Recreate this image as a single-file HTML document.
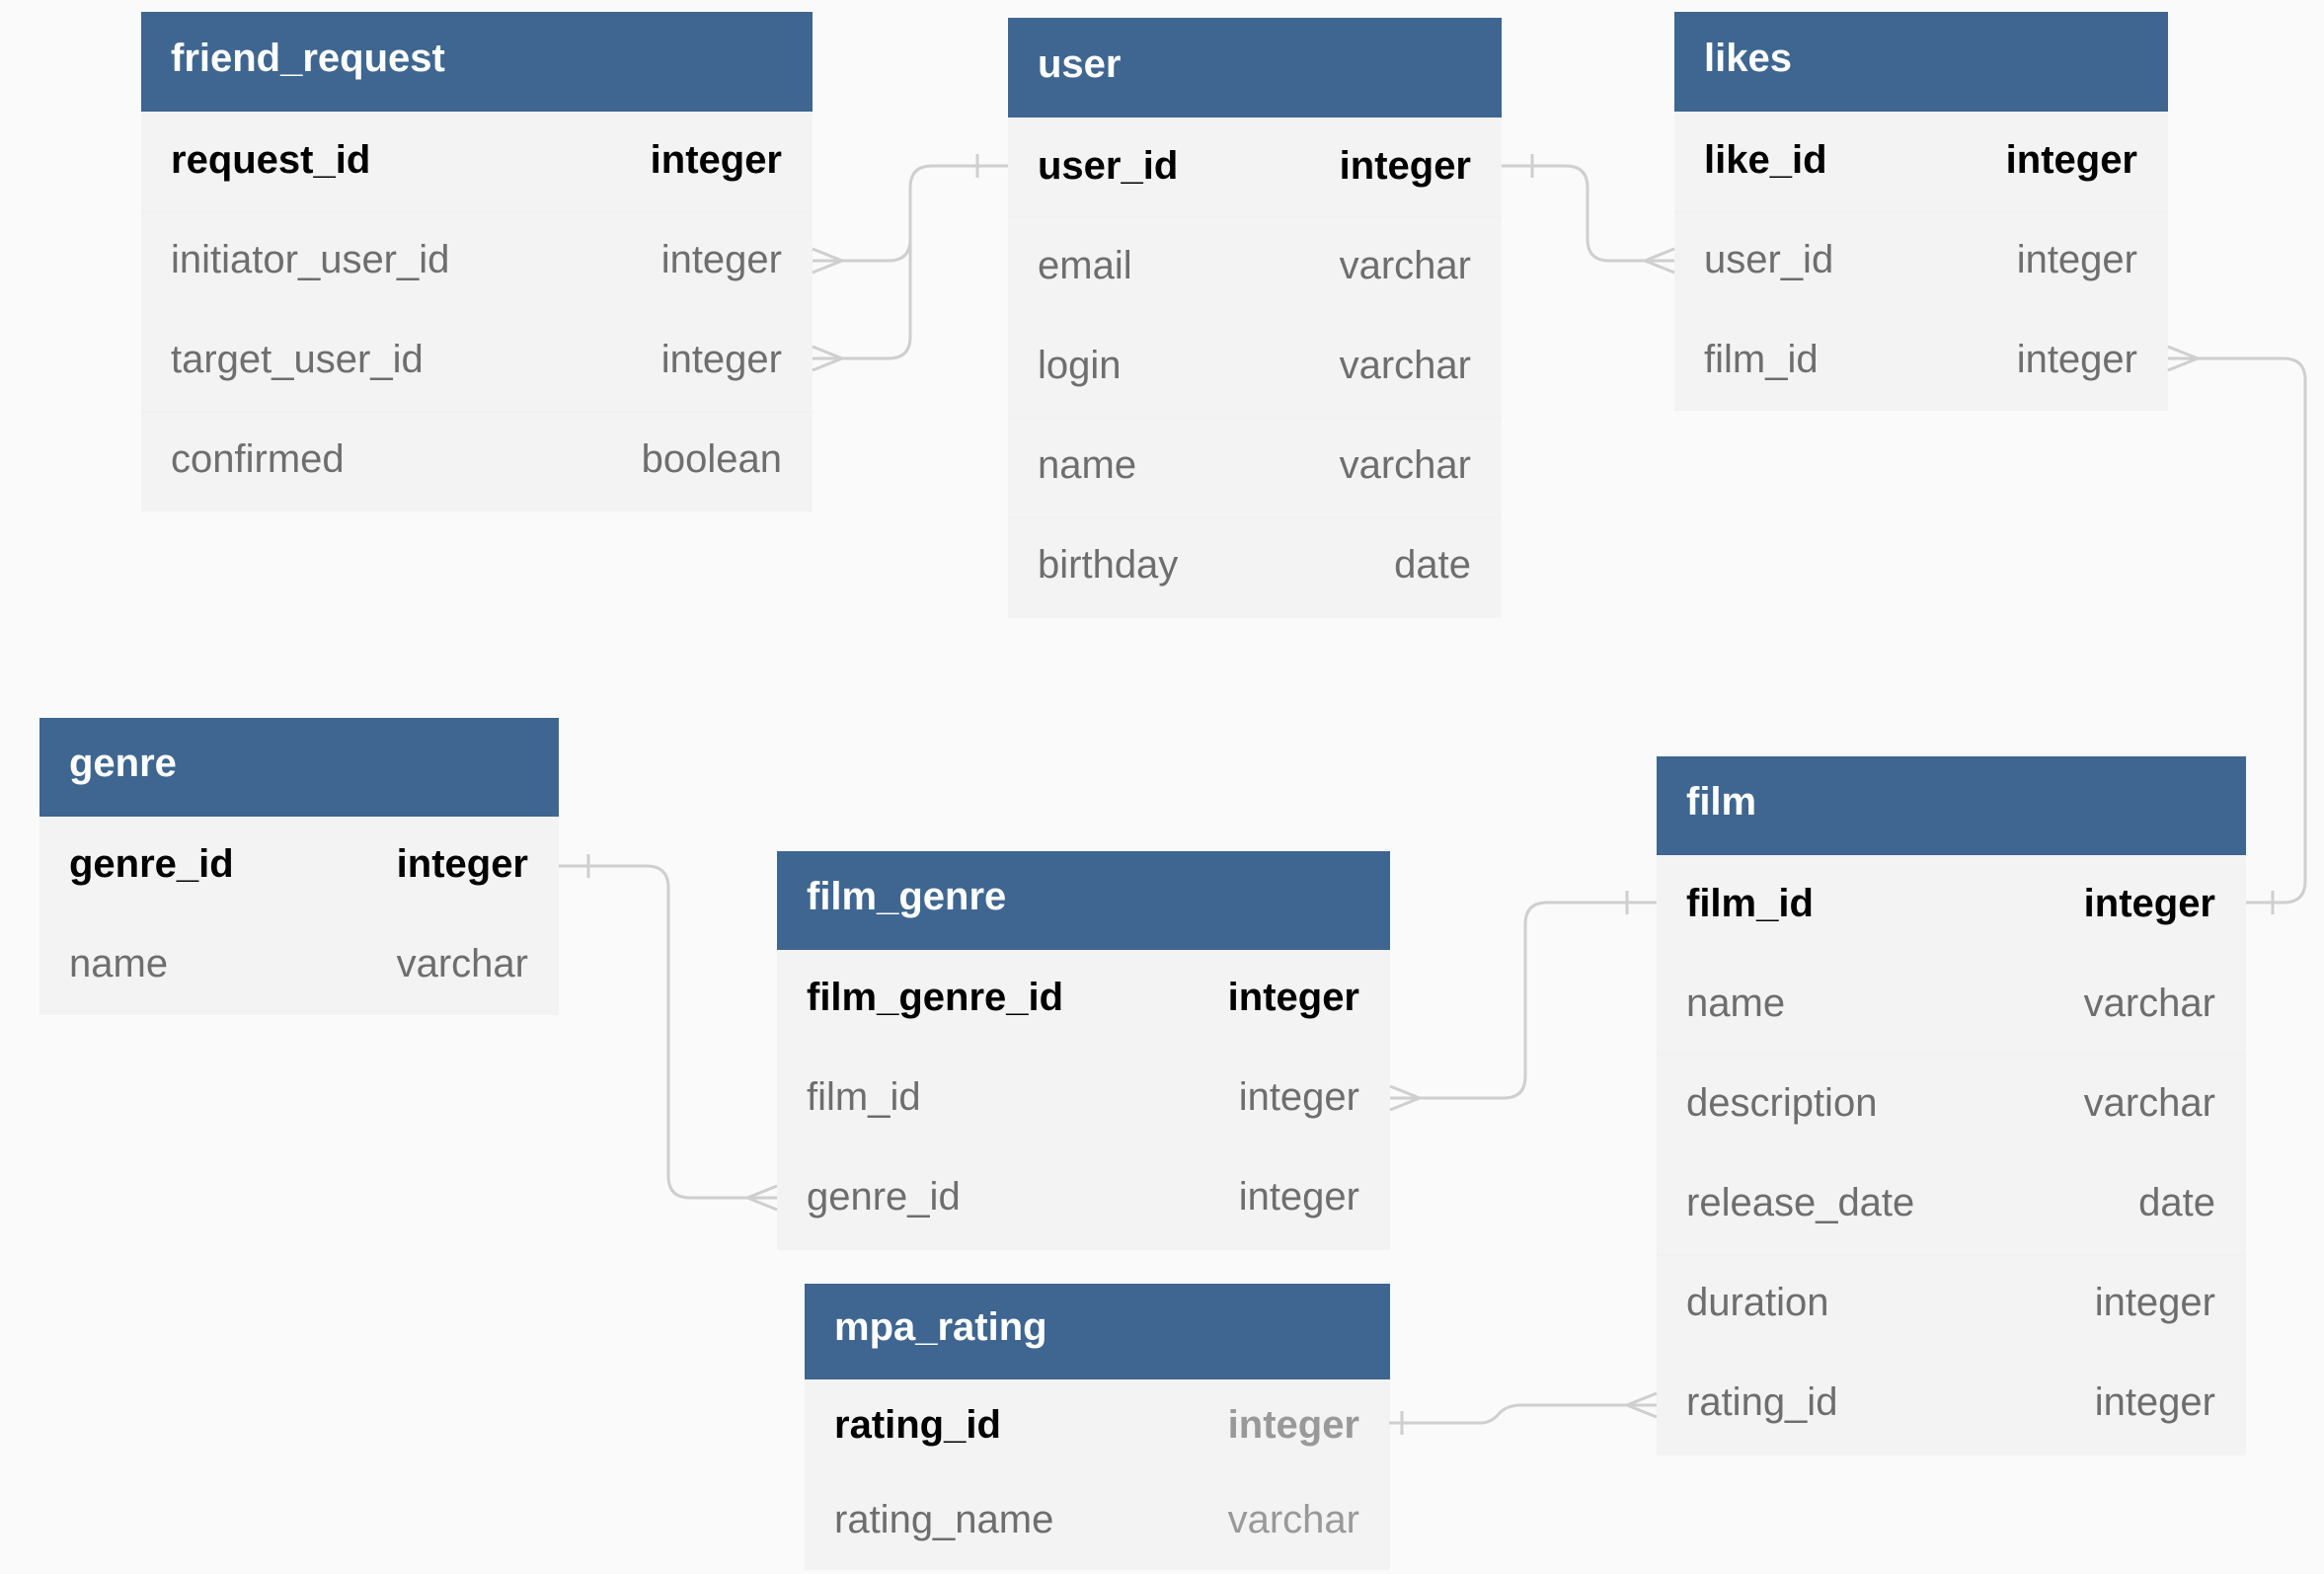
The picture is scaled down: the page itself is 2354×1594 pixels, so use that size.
<!DOCTYPE html>
<html><head><meta charset="utf-8"><style>
html,body{margin:0;padding:0;background:#fafafa;}
svg{display:block;font-family:"Liberation Sans",Arial,sans-serif;}
.h{fill:#fff;font-weight:bold;font-size:40px;}
.k{fill:#000;font-weight:bold;font-size:40px;}
.f{fill:#6e6e6e;font-size:40px;}
.c{fill:none;stroke:#cfcfcf;stroke-width:3;}
</style></head><body>
<svg width="2354" height="1594" viewBox="0 0 2354 1594">
<rect width="2354" height="1594" fill="#fafafa"/>
<!-- friend_request -->
<rect x="143" y="12" width="680" height="101" fill="#3e6690"/>
<rect x="143" y="113" width="680" height="405" fill="#f3f3f3"/>
<line x1="143" y1="214" x2="823" y2="214" stroke="#f1f1f1" stroke-width="2"/><line x1="143" y1="417" x2="823" y2="417" stroke="#f1f1f1" stroke-width="2"/>
<text x="173" y="72" class="h">friend_request</text>
<text x="173" y="175" class="k">request_id</text><text x="792" y="175" class="k" text-anchor="end">integer</text>
<text x="173" y="276" class="f">initiator_user_id</text><text x="792" y="276" class="f" text-anchor="end">integer</text>
<text x="173" y="377" class="f">target_user_id</text><text x="792" y="377" class="f" text-anchor="end">integer</text>
<text x="173" y="478" class="f">confirmed</text><text x="792" y="478" class="f" text-anchor="end">boolean</text>
<!-- user -->
<rect x="1021" y="18" width="500" height="101" fill="#3e6690"/>
<rect x="1021" y="119" width="500" height="507" fill="#f3f3f3"/>
<line x1="1021" y1="220" x2="1521" y2="220" stroke="#f1f1f1" stroke-width="2"/><line x1="1021" y1="423" x2="1521" y2="423" stroke="#f1f1f1" stroke-width="2"/><line x1="1021" y1="524" x2="1521" y2="524" stroke="#f1f1f1" stroke-width="2"/>
<text x="1051" y="78" class="h">user</text>
<text x="1051" y="181" class="k">user_id</text><text x="1490" y="181" class="k" text-anchor="end">integer</text>
<text x="1051" y="282" class="f">email</text><text x="1490" y="282" class="f" text-anchor="end">varchar</text>
<text x="1051" y="383" class="f">login</text><text x="1490" y="383" class="f" text-anchor="end">varchar</text>
<text x="1051" y="484" class="f">name</text><text x="1490" y="484" class="f" text-anchor="end">varchar</text>
<text x="1051" y="585" class="f">birthday</text><text x="1490" y="585" class="f" text-anchor="end">date</text>
<!-- likes -->
<rect x="1696" y="12" width="500" height="101" fill="#3e6690"/>
<rect x="1696" y="113" width="500" height="303" fill="#f3f3f3"/>
<line x1="1696" y1="214" x2="2196" y2="214" stroke="#f1f1f1" stroke-width="2"/>
<text x="1726" y="72" class="h">likes</text>
<text x="1726" y="175" class="k">like_id</text><text x="2165" y="175" class="k" text-anchor="end">integer</text>
<text x="1726" y="276" class="f">user_id</text><text x="2165" y="276" class="f" text-anchor="end">integer</text>
<text x="1726" y="377" class="f">film_id</text><text x="2165" y="377" class="f" text-anchor="end">integer</text>
<!-- genre -->
<rect x="40" y="727" width="526" height="100" fill="#3e6690"/>
<rect x="40" y="827" width="526" height="201" fill="#f3f3f3"/>
<text x="70" y="786" class="h">genre</text>
<text x="70" y="888" class="k">genre_id</text><text x="535" y="888" class="k" text-anchor="end">integer</text>
<text x="70" y="989" class="f">name</text><text x="535" y="989" class="f" text-anchor="end">varchar</text>
<!-- film_genre -->
<rect x="787" y="862" width="621" height="100" fill="#3e6690"/>
<rect x="787" y="962" width="621" height="304" fill="#f3f3f3"/>
<text x="817" y="921" class="h">film_genre</text>
<text x="817" y="1023" class="k">film_genre_id</text><text x="1377" y="1023" class="k" text-anchor="end">integer</text>
<text x="817" y="1124" class="f">film_id</text><text x="1377" y="1124" class="f" text-anchor="end">integer</text>
<text x="817" y="1225" class="f">genre_id</text><text x="1377" y="1225" class="f" text-anchor="end">integer</text>
<!-- film -->
<rect x="1678" y="766" width="597" height="100" fill="#3e6690"/>
<rect x="1678" y="866" width="597" height="608" fill="#f3f3f3"/>
<line x1="1678" y1="1068" x2="2275" y2="1068" stroke="#f1f1f1" stroke-width="2"/><line x1="1678" y1="1271" x2="2275" y2="1271" stroke="#f1f1f1" stroke-width="2"/>
<text x="1708" y="825" class="h">film</text>
<text x="1708" y="928" class="k">film_id</text><text x="2244" y="928" class="k" text-anchor="end">integer</text>
<text x="1708" y="1029" class="f">name</text><text x="2244" y="1029" class="f" text-anchor="end">varchar</text>
<text x="1708" y="1130" class="f">description</text><text x="2244" y="1130" class="f" text-anchor="end">varchar</text>
<text x="1708" y="1231" class="f">release_date</text><text x="2244" y="1231" class="f" text-anchor="end">date</text>
<text x="1708" y="1332" class="f">duration</text><text x="2244" y="1332" class="f" text-anchor="end">integer</text>
<text x="1708" y="1433" class="f">rating_id</text><text x="2244" y="1433" class="f" text-anchor="end">integer</text>
<!-- mpa_rating -->
<rect x="815" y="1300" width="593" height="97" fill="#3e6690"/>
<rect x="815" y="1397" width="593" height="193" fill="#f3f3f3"/>
<text x="845" y="1357" class="h">mpa_rating</text>
<text x="845" y="1456" class="k">rating_id</text><text x="1377" y="1456" class="k" text-anchor="end" style="fill:#999">integer</text>
<text x="845" y="1552" class="f">rating_name</text><text x="1377" y="1552" class="f" text-anchor="end" style="fill:#999">varchar</text>
<!-- connectors -->
<path class="c" d="M1021 168 H944 Q922 168 922 190 V242 Q922 264 900 264 H823"/>
<path class="c" d="M922 240 V341 Q922 363 900 363 H823"/>
<path class="c" d="M990 156 V180"/>
<path class="c" d="M853 264 L823 252 M853 264 L823 276 M853 363 L823 351 M853 363 L823 375"/>
<path class="c" d="M1521 168 H1586 Q1608 168 1608 190 V242 Q1608 264 1630 264 H1696"/>
<path class="c" d="M1552 156 V180 M1666 264 L1696 252 M1666 264 L1696 276"/>
<path class="c" d="M2196 363 H2313 Q2335 363 2335 385 V892 Q2335 914 2313 914 H2275"/>
<path class="c" d="M2226 363 L2196 351 M2226 363 L2196 375 M2302 902 V926"/>
<path class="c" d="M566 877 H655 Q677 877 677 899 V1191 Q677 1213 699 1213 H787"/>
<path class="c" d="M596 865 V889 M757 1213 L787 1201 M757 1213 L787 1225"/>
<path class="c" d="M1678 914 H1567 Q1545 914 1545 936 V1090 Q1545 1112 1523 1112 H1408"/>
<path class="c" d="M1648 902 V926 M1438 1112 L1408 1100 M1438 1112 L1408 1124"/>
<path class="c" d="M1407 1441 H1500 Q1510 1441 1518 1432 Q1526 1423 1540 1423 H1678"/>
<path class="c" d="M1420 1429 V1453 M1648 1423 L1678 1411 M1648 1423 L1678 1435"/>
</svg>
</body></html>
